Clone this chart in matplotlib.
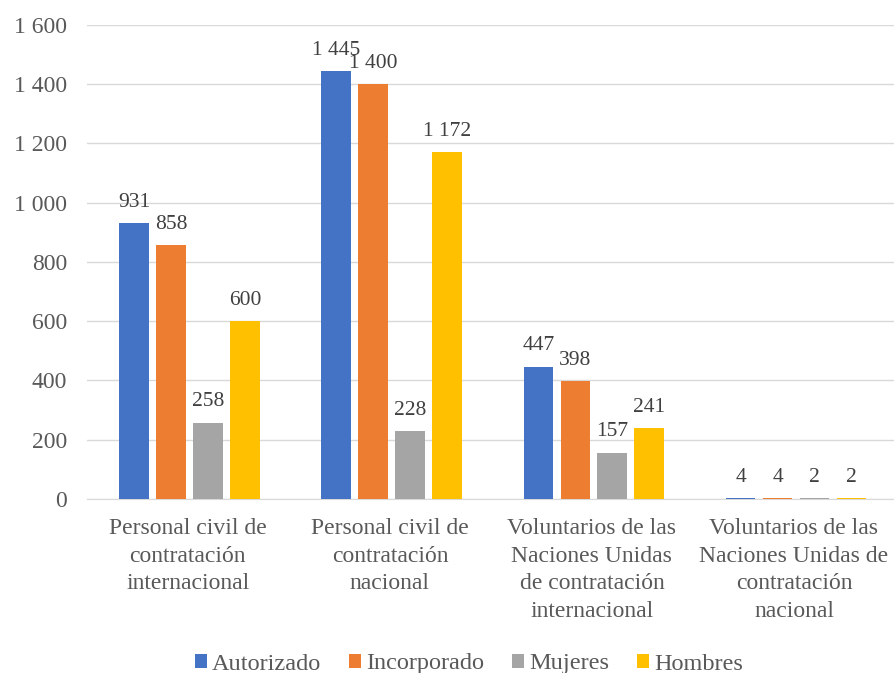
import matplotlib
matplotlib.use("Agg")
import matplotlib.pyplot as plt
import numpy as np
from matplotlib.ticker import FuncFormatter

categories = ["Personal civil de\ncontratación\ninternacional",
              "Personal civil de\ncontratación\nnacional",
              "Voluntarios de las\nNaciones Unidas\nde contratación\ninternacional",
              "Voluntarios de las\nNaciones Unidas de\ncontratación\nnacional"]
series = ["Autorizado", "Incorporado", "Mujeres", "Hombres"]
autorizado = [931, 1445, 447, 4]
incorporado = [858, 1400, 398, 4]
mujeres = [258, 228, 157, 2]
hombres = [600, 1172, 241, 2]
colors = ["#4472C4", "#ED7D31", "#A5A5A5", "#FFC000"]

plt.rcParams['font.family'] = ['Liberation Serif', 'DejaVu Serif']

fig = plt.figure(figsize=(8.95, 6.73), dpi=100)
ax = fig.add_axes([0.097, 0.2585, 0.903, 0.7045])

x = np.arange(len(categories))
w = 0.148
step = 0.183
data = [autorizado, incorporado, mujeres, hombres]
def fmt(v):
    return f"{int(v):,}".replace(",", " ")
for i, (name, vals, c) in enumerate(zip(series, data, colors)):
    pos = x + (i - 1.5) * step + 0.01
    ax.bar(pos, vals, width=w, color=c, label=name, zorder=3)
    for p, v in zip(pos, vals):
        ax.annotate(fmt(v), (p, v), xytext=(0, 8), textcoords='offset points',
                    ha='center', va='bottom', fontsize=15.5, color='#404040')

ax.set_ylim(0, 1600)
ax.set_xlim(-0.5, 3.5)
ax.set_yticks(np.arange(0, 1601, 200))
ax.yaxis.set_major_formatter(FuncFormatter(lambda v, p: fmt(v)))
ax.grid(axis='y', color='#D9D9D9', linewidth=1, zorder=0)
for s in ['top', 'right', 'left']:
    ax.spines[s].set_visible(False)
ax.spines['bottom'].set_color('#D9D9D9')
ax.tick_params(axis='y', length=0, labelsize=17, labelcolor='#595959', pad=14)
ax.tick_params(axis='x', length=0, labelsize=17, labelcolor='#595959', pad=14)
ax.set_xticks(x)
ax.set_xticklabels(categories, linespacing=1.4)

ax.legend(loc='center', bbox_to_anchor=(0.473, (9 - 0.2585 * 673) / (0.7045 * 673)),
          ncol=4, frameon=False,
          fontsize=17.5, handlelength=0.5, handleheight=0.5, handletextpad=0.2, columnspacing=1.15,
          labelcolor='#595959', borderpad=0)

fig.savefig("out.png", dpi=100)
